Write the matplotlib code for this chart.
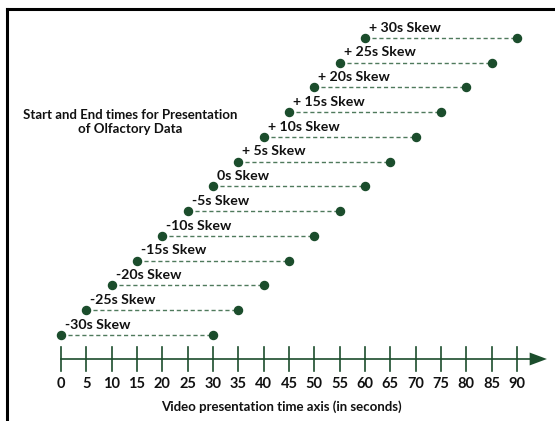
import numpy as np
import matplotlib.pyplot as plt

# skew offsets (seconds) and start/end times of each presentation window
skews = [-30, -25, -20, -15, -10, -5, 0, 5, 10, 15, 20, 25, 30]
starts = [0, 5, 10, 15, 20, 25, 30, 35, 40, 45, 50, 55, 60]
ends = [30, 35, 40, 45, 50, 55, 60, 65, 70, 75, 80, 85, 90]
labels = ['-30s Skew', '-25s Skew', '-20s Skew', '-15s Skew', '-10s Skew', '-5s Skew',
          '0s Skew', '+ 5s Skew', '+ 10s Skew', '+ 15s Skew', '+ 20s Skew',
          '+ 25s Skew', '+ 30s Skew']
ticks = list(range(0, 95, 5))

green = '#1b4d2c'
dash_col = '#4f7a5c'
font = ['Lato', 'DejaVu Sans']

fig = plt.figure(figsize=(5.55, 4.21), dpi=100)
ax = fig.add_axes([0, 0, 1, 1])
ax.set_xlim(-12.04, 97.5)
ax.set_ylim(-3.475, 13.535)
ax.axis('off')

# rows
for i, (s, e, lab) in enumerate(zip(starts, ends, labels)):
    ax.plot([s, e], [i, i], ls=(0, (3, 2)), lw=1.0, color=dash_col, zorder=1)
    ax.plot([s, e], [i, i], 'o', ms=5.8, color=green, zorder=2)
    ax.text(s + 0.8, i + 0.42, lab, fontsize=10.2, fontweight='bold', family=font,
            ha='left', va='center', color='#111111')

# time axis
y_ax = -0.97
ax.plot([0, 92.8], [y_ax, y_ax], color=green, lw=1.2)
ax.fill([92.5, 95.9, 92.5], [y_ax + 0.26, y_ax, y_ax - 0.26], color=green, lw=0)
for t in ticks:
    ax.plot([t, t], [y_ax - 0.5, y_ax + 0.5], color=green, lw=1.2)
    ax.text(t, -1.96, str(t), fontsize=10.5, fontweight='bold', family=font,
            ha='center', va='center', color='#111111')

ax.text(43.4, -2.91, 'Video presentation time axis (in seconds)', fontsize=9.5,
        fontweight='bold', family=font, ha='center', va='center', color='#111111')
ax.text(13.6, 8.6, 'Start and End times for Presentation\nof Olfactory Data',
        fontsize=9.5, fontweight='bold', family=font, ha='center', va='center',
        color='#111111', linespacing=1.25)

# frame (top and left edges)
fig.add_artist(plt.Line2D([6.5 / 555, 6.5 / 555], [0, 1 - 8.5 / 421], color='black', lw=2.2))
fig.add_artist(plt.Line2D([6.5 / 555, 1], [1 - 8.5 / 421, 1 - 8.5 / 421], color='black', lw=2.2))

fig.savefig('out.png', dpi=100)
